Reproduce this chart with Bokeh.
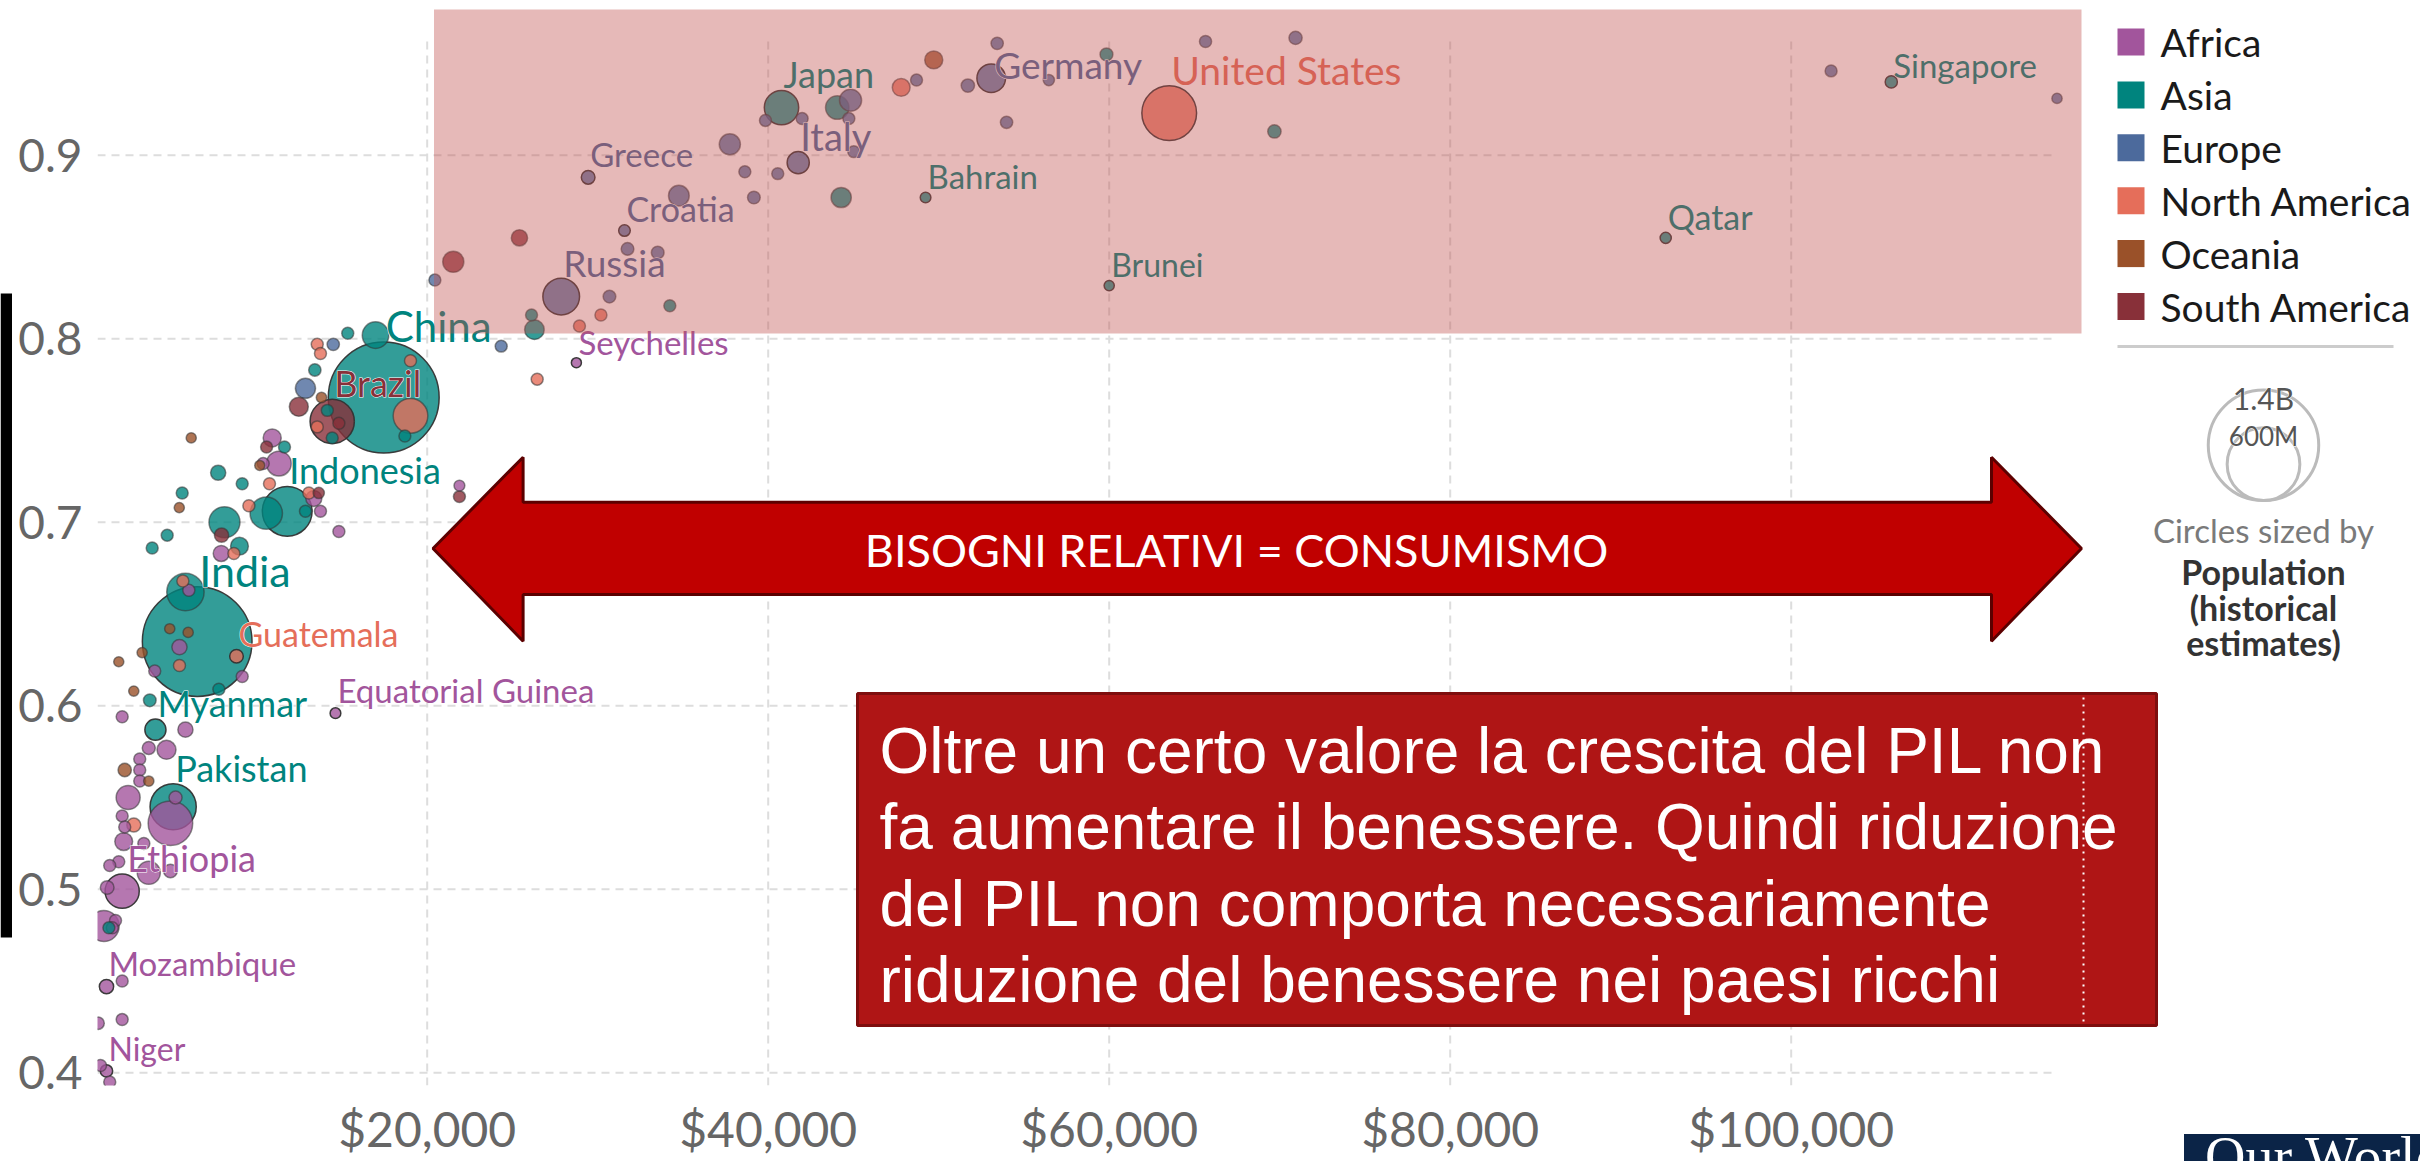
import math
from bokeh.plotting import figure
from bokeh.layouts import row, column
from bokeh.models import Range1d, ColumnDataSource, BoxAnnotation, Div
from bokeh.core.properties import value
from bokeh.embed import file_html
from bokeh.resources import INLINE

# ---------------- data ----------------
CONTINENTS = ["Africa", "Asia", "Europe", "North America", "Oceania", "South America"]
CONTINENT_COLORS = ["#A2559C", "#00847E", "#4C6A9C", "#E56E5A", "#9A5129", "#883039"]

AFRICA_NAME = ["", "", "", "", "", "", "", "", "", "", "", "Equatorial Guinea", "", "", "", "", "", "", "", "",
               "", "", "", "", "", "", "", "", "", "Ethiopia", "", "", "", "", "", "Mozambique", "", "", "", "",
               "Niger", "", "Seychelles", ""]
AFRICA_GDP = [11300, 10910, 10380, 13350, 13740, 14820, 7920, 6020, 5470, 4020, 9150, 14620, 2110, 5820, 4710, 3670,
              3140, 3140, 3140, 5240, 4940, 2460, 2110, 2260, 2200, 3380, 3670, 4940, 1910, 2110, 1380, 1230, 1030,
              1720, 1530, 1190, 2110, 700, 2110, 840, 1190, 1380, 28750, 21890]
AFRICA_HDI = [0.732, 0.746, 0.732, 0.713, 0.706, 0.695, 0.683, 0.663, 0.632, 0.619, 0.616, 0.596, 0.594, 0.587,
              0.576, 0.577, 0.571, 0.565, 0.559, 0.550, 0.536, 0.550, 0.540, 0.534, 0.526, 0.525, 0.509, 0.510,
              0.515, 0.499, 0.513, 0.501, 0.480, 0.483, 0.479, 0.447, 0.450, 0.427, 0.429, 0.404, 0.401, 0.395,
              0.787, 0.720]
AFRICA_POP = [60, 26, 5, 18, 5, 5, 18, 5, 15, 5, 5, 1.7, 5, 15, 30, 8, 5, 5, 5, 8, 218, 55, 5, 5, 25, 5, 50, 10,
              5, 123, 5, 10, 99, 5, 5, 12, 5, 6, 5, 5, 6, 5, 0.1, 2]

ASIA_NAME = ["China", "", "", "", "", "", "", "", "", "", "", "", "Indonesia", "", "", "", "", "", "", "India", "",
             "", "Myanmar", "Pakistan", "", "", "", "", "Japan", "", "", "Bahrain", "", "", "Brunei", "Qatar",
             "Singapore"]
ASIA_GDP = [17450, 16970, 15340, 13410, 14140, 14430, 18690, 11630, 7740, 9150, 5630, 10560, 11790, 12860, 8110,
            4750, 3870, 8990, 5820, 6510, 7780, 3730, 4060, 5100, 1330, 26290, 26120, 34230, 40780, 44050, 44280,
            49230, 59840, 69690, 60000, 92640, 105870]
ASIA_HDI = [0.768, 0.802, 0.803, 0.783, 0.761, 0.746, 0.747, 0.741, 0.727, 0.721, 0.716, 0.705, 0.706, 0.706,
            0.700, 0.693, 0.686, 0.687, 0.662, 0.635, 0.609, 0.603, 0.587, 0.545, 0.479, 0.805, 0.813, 0.818,
            0.926, 0.926, 0.877, 0.877, 0.955, 0.913, 0.829, 0.855, 0.940]
ASIA_POP = [1410, 70, 5, 6, 5, 5, 5, 5, 15, 5, 5, 110, 275, 5, 100, 5, 5, 25, 150, 1380, 5, 7, 40, 235, 5, 33, 5,
            5, 125, 52, 36, 1.5, 7.5, 9, 0.4, 2.7, 5.6]

EUROPE_NAME = ["", "", "", "", "Russia", "", "Greece", "Croatia", "", "", "", "", "", "", "", "", "Italy", "", "",
               "", "", "", "", "Germany", "", "", "", "", "", "", ""]
EUROPE_GDP = [14490, 12860, 20450, 24340, 27860, 30690, 29440, 31570, 31750, 33520, 34760, 37750, 38630, 39160,
              39840, 40560, 41760, 41990, 44830, 44730, 45020, 48700, 51710, 53080, 53430, 53980, 56460, 65650,
              70930, 102340, 115590]
EUROPE_HDI = [0.797, 0.773, 0.832, 0.796, 0.823, 0.823, 0.888, 0.859, 0.849, 0.847, 0.878, 0.906, 0.891, 0.877,
              0.919, 0.890, 0.896, 0.920, 0.930, 0.920, 0.902, 0.941, 0.938, 0.942, 0.961, 0.918, 0.941, 0.962,
              0.964, 0.946, 0.931]
EUROPE_POP = [6, 35, 5, 5, 144, 7, 10, 4, 7, 7, 38, 40, 5, 7, 5, 5, 45, 5, 45, 5, 5, 5, 9, 83, 6, 6, 3, 5.4, 8.7,
              5, 0.6]

NAMERICA_NAME = ["", "", "", "", "", "", "", "", "", "", "", "Guatemala", "", "", "", "", "", "United States"]
NAMERICA_GDP = [13550, 13740, 19020, 19020, 13550, 10750, 9540, 13060, 8660, 5670, 5470, 8815, 2790, 30190, 28930,
                26450, 47800, 63520]
NAMERICA_HDI = [0.797, 0.792, 0.758, 0.788, 0.752, 0.721, 0.709, 0.716, 0.683, 0.668, 0.622, 0.627, 0.535, 0.813,
                0.807, 0.778, 0.937, 0.923]
NAMERICA_POP = [5, 5, 127, 5, 5, 5, 5, 5, 5, 5, 5, 10, 11, 5, 5, 5, 25, 335]

OCEANIA_NAME = ["", "", "", "", "", "", "", "", "", "", "", ""]
OCEANIA_GDP = [13800, 6160, 10180, 5460, 4900, 5980, 3280, 1910, 2790, 2260, 3670, 49710]
OCEANIA_HDI = [0.768, 0.746, 0.731, 0.708, 0.642, 0.640, 0.629, 0.624, 0.608, 0.565, 0.559, 0.952]
OCEANIA_POP = [1, 0.3, 0.1, 0.3, 0.5, 0.5, 0.5, 0.3, 0.5, 9, 0.7, 26]

SAMERICA_NAME = ["", "Brazil", "", "", "", "", "", "", ""]
SAMERICA_GDP = [12470, 14430, 14820, 10580, 13640, 7940, 21530, 25410, 21890]
SAMERICA_HDI = [0.763, 0.755, 0.754, 0.741, 0.716, 0.693, 0.842, 0.855, 0.714]
SAMERICA_POP = [30, 215, 5, 5, 3, 12, 40, 19, 5]

X_TICKS = [20000, 40000, 60000, 80000, 100000]
X_TICK_LABELS = ["$20,000", "$40,000", "$60,000", "$80,000", "$100,000"]
Y_TICKS = [0.4, 0.5, 0.6, 0.7, 0.8, 0.9]
Y_TICK_LABELS = ["0.4", "0.5", "0.6", "0.7", "0.8", "0.9"]

SIZE_LEGEND_POP = [1400, 600]
SIZE_LEGEND_LABELS = ["1.4B", "600M"]

ARROW_TEXT = "BISOGNI RELATIVI = CONSUMISMO"
BOX_LINES = ["Oltre un certo valore la crescita del PIL non",
             "fa aumentare il benessere. Quindi riduzione",
             "del PIL non comporta necessariamente",
             "riduzione del benessere nei paesi ricchi"]
LOGO_TEXT = "Our World"

# ---------------- layout (pixels of the 2420x1161 page) ----------------
W, H = 2420, 1161
BAR_W = 12                      # black slide bar at the far left
FRAME_LEFT, FRAME_BOTTOM = 97, 1085
USD0_PX = 85.7
PX_PER_USD = 341 / 20000
HDI_REF, HDI_REF_PX = 0.8, 338.3
PX_PER_HDI = 1835.0


def X(px):
    return (px - USD0_PX) / PX_PER_USD


def Y(py):
    return HDI_REF - (py - HDI_REF_PX) / PX_PER_HDI


def radius_px(pop_m):
    return math.sqrt(25 + 55 ** 2 * pop_m / 1400.0)


LABEL_FONT_PX = {"China": 42, "India": 43, "United States": 39, "Brazil": 36, "Indonesia": 36, "Pakistan": 36,
                 "Ethiopia": 36, "Russia": 37, "Japan": 36, "Germany": 37, "Italy": 38, "Myanmar": 36,
                 "Guatemala": 34, "Greece": 33, "Croatia": 34, "Bahrain": 33, "Brunei": 32, "Qatar": 34,
                 "Singapore": 33, "Seychelles": 33, "Equatorial Guinea": 33, "Mozambique": 33, "Niger": 32}
LABEL_GAP_PX = 16
LABEL_DX_PX = {"Ethiopia": 5, "Germany": 3}
LABEL_DY_PX = {"Germany": -17.0, "Singapore": -5.0, "Equatorial Guinea": 2.0}

# ---------------- main figure ----------------
p = figure(width=W - BAR_W, height=H,
           x_range=Range1d(X(FRAME_LEFT), X(W)), y_range=Range1d(Y(FRAME_BOTTOM), Y(0)),
           output_backend="svg", toolbar_location=None,
           min_border_left=FRAME_LEFT - BAR_W, min_border_right=0, min_border_top=0,
           min_border_bottom=H - FRAME_BOTTOM, outline_line_color=None,
           background_fill_color="white", border_fill_color="white")
p.xgrid.visible = False
p.ygrid.visible = False

for ax, ticks, labels, fs, standoff in ((p.xaxis, X_TICKS, X_TICK_LABELS, "48px", 14),
                                        (p.yaxis, Y_TICKS, Y_TICK_LABELS, "46px", 15)):
    ax.ticker = ticks
    ax.major_label_overrides = {t: s for t, s in zip(ticks, labels)}
    ax.axis_line_color = None
    ax.major_tick_line_color = None
    ax.minor_tick_line_color = None
    ax.major_tick_out = 0
    ax.major_label_text_font = "Lato"
    ax.major_label_text_font_size = fs
    ax.major_label_text_color = "#666666"
    ax.major_label_standoff = standoff

# ---------------- black bar (left strip of the slide), same vertical scale ----------------
bar = figure(width=BAR_W, height=H, x_range=Range1d(0, 1), y_range=p.y_range,
             output_backend="svg", toolbar_location=None, min_border=0, outline_line_color=None,
             x_axis_location=None, y_axis_location=None, background_fill_color="white",
             border_fill_color="white")
bar.grid.visible = False
bar.quad(left=[0], right=[1], top=[Y(293)], bottom=[Y(937)], fill_color="black", line_color=None)

# gridlines
grid_right = X(2055)
grid_top = Y(40)
p.segment(x0=[X(FRAME_LEFT)] * len(Y_TICKS), x1=[grid_right] * len(Y_TICKS), y0=Y_TICKS, y1=Y_TICKS,
          line_color="#dddddd", line_width=2, line_dash="8 6")
p.segment(x0=X_TICKS, x1=X_TICKS, y0=[Y(FRAME_BOTTOM)] * len(X_TICKS), y1=[grid_top] * len(X_TICKS),
          line_color="#dddddd", line_width=2, line_dash="8 6")

# bubbles
groups = [(AFRICA_NAME, AFRICA_GDP, AFRICA_HDI, AFRICA_POP),
          (ASIA_NAME, ASIA_GDP, ASIA_HDI, ASIA_POP),
          (EUROPE_NAME, EUROPE_GDP, EUROPE_HDI, EUROPE_POP),
          (NAMERICA_NAME, NAMERICA_GDP, NAMERICA_HDI, NAMERICA_POP),
          (OCEANIA_NAME, OCEANIA_GDP, OCEANIA_HDI, OCEANIA_POP),
          (SAMERICA_NAME, SAMERICA_GDP, SAMERICA_HDI, SAMERICA_POP)]
rows = []
for ci, (names, gdp, hdi, pop) in enumerate(groups):
    for n, gx, hy, pp in zip(names, gdp, hdi, pop):
        rows.append((n, gx, hy, pp, CONTINENT_COLORS[ci]))
rows.sort(key=lambda r: -r[3])

bub = ColumnDataSource(dict(
    x=[r[1] for r in rows], y=[r[2] for r in rows],
    size=[2 * radius_px(r[3]) for r in rows],
    color=[r[4] for r in rows],
    la=[0.95 if r[0] else 0.55 for r in rows]))
p.scatter(x="x", y="y", size="size", source=bub, fill_color="color", fill_alpha=0.8,
          line_color="#333333", line_alpha="la", line_width=1.5)

lab_rows = [r for r in rows if r[0]]
lab = ColumnDataSource(dict(
    x=[r[1] + LABEL_DX_PX.get(r[0], 2) / PX_PER_USD for r in lab_rows],
    y=[r[2] + (radius_px(r[3]) + LABEL_GAP_PX + LABEL_DY_PX.get(r[0], 0)) / PX_PER_HDI for r in lab_rows],
    text=[r[0] for r in lab_rows],
    color=[r[4] for r in lab_rows],
    fs=["%dpx" % LABEL_FONT_PX[r[0]] for r in lab_rows]))
# white halo first, then the coloured text on top
p.text(x="x", y="y", text="text", source=lab, text_color="white", text_font=value("Lato"),
       text_font_size="fs", text_baseline="alphabetic", text_align="left", text_outline_color="white")
p.text(x="x", y="y", text="text", source=lab, text_color="color", text_font=value("Lato"),
       text_font_size="fs", text_baseline="alphabetic", text_align="left")

# highlighted rich-country region
p.add_layout(BoxAnnotation(left=X(433.5), right=X(2081), top=Y(9), bottom=Y(333),
                           fill_color="#C0504D", fill_alpha=0.4, line_color=None))

# double arrow
ax_px = [432.5, 522.6, 522.6, 1991, 1991, 2081, 1991, 1991, 522.6, 522.6]
ay_px = [548, 456.7, 501.7, 501.7, 456.7, 548, 640.7, 594, 594, 640.7]
p.patch([X(v) for v in ax_px], [Y(v) for v in ay_px], fill_color="#C00000", line_color="#5C0000",
        line_width=3)
p.text(x=[X(1236)], y=[Y(549)], text=[ARROW_TEXT], text_align="center", text_baseline="middle",
       text_color="white", text_font=value("Lato"), text_font_size="45px")

# text box
p.quad(left=[X(857)], right=[X(2156)], top=[Y(693)], bottom=[Y(1025)], fill_color="#AF1515",
       line_color="#7E0E0E", line_width=3)
p.segment(x0=[X(2083)], x1=[X(2083)], y0=[Y(697)], y1=[Y(1021)], line_color="white", line_width=2,
          line_dash="2 5")
box_baselines = [750, 826.5, 903, 979.5]
p.text(x=[X(879)] * 4, y=[Y(b) for b in box_baselines], text=BOX_LINES, text_color="white",
       text_font=value("Liberation Sans"), text_font_size="64px", text_baseline="alphabetic",
       text_align="left")

# colour legend
leg_y = [Y(41.5 + 52.9 * i) for i in range(len(CONTINENTS))]
p.rect(x=[X(2130.5)] * len(CONTINENTS), y=leg_y, width=27, height=27, width_units="screen",
       height_units="screen", fill_color=CONTINENT_COLORS, line_color=None)
p.text(x=[X(2160)] * len(CONTINENTS), y=leg_y, text=CONTINENTS, text_baseline="middle", text_align="left",
       text_font=value("Lato"), text_font_size="39px", text_color="#1a1a1a")
p.segment(x0=[X(2117)], x1=[X(2393)], y0=[Y(346)], y1=[Y(346)], line_color="#cccccc", line_width=3)

# size legend
sr = [radius_px(v) for v in SIZE_LEGEND_POP]
p.scatter(x=[X(2263)] * 2, y=[Y(500 - r) for r in sr], size=[2 * r for r in sr], fill_color=None,
          line_color="#bbbbbb", line_width=3)
sl_y = [Y(500 - 2 * r + 8) for r in sr]
p.text(x=[X(2263)] * 2, y=sl_y, text=SIZE_LEGEND_LABELS, text_align="center",
       text_baseline="middle", text_font=value("Lato"), text_font_size=["30px", "26px"], text_color="white",
       text_outline_color="white")
p.text(x=[X(2263)] * 2, y=sl_y, text=SIZE_LEGEND_LABELS, text_align="center",
       text_baseline="middle", text_font=value("Lato"), text_font_size=["30px", "26px"], text_color="#555555")
p.text(x=[X(2263)], y=[Y(529)], text=["Circles sized by"], text_align="center", text_baseline="middle",
       text_font=value("Lato"), text_font_size="33px", text_color="#7a7a7a")
p.text(x=[X(2263)] * 3, y=[Y(571), Y(607), Y(642)], text=["Population", "(historical", "estimates)"],
       text_align="center", text_baseline="middle", text_font=value("Lato"), text_font_size="34px",
       text_font_style="bold", text_color="#333333")

# cut-off logo at the bottom right of the slide (HTML overlay)
logo = Div(text=LOGO_TEXT, width=241, height=32,
           styles={"position": "absolute", "left": "2179px", "top": "1129px", "z-index": "10",
                   "background-color": "#0B2447", "color": "white", "font-family": "Liberation Serif",
                   "font-size": "56px", "line-height": "0.85", "padding-left": "21px", "overflow": "hidden",
                   "white-space": "nowrap", "box-sizing": "border-box"})

open("out.html", "w").write(file_html(column(row(bar, p), logo), INLINE))
